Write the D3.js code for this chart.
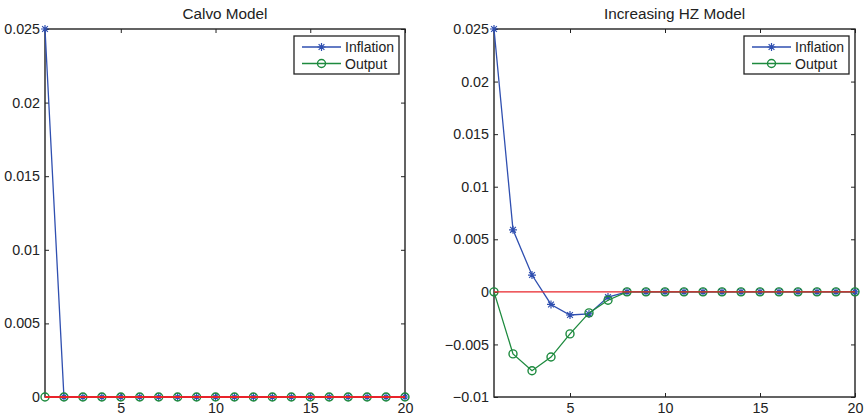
<!DOCTYPE html>
<html>
<head>
<meta charset="utf-8">
<script src="https://cdn.jsdelivr.net/npm/d3@7"></script>
<style>
  body { margin: 0; background: #fff; }
  svg { font-family: "Liberation Sans", Arial, sans-serif; }
</style>
</head>
<body>
<div id="chart"></div>
<script>
const periods = [1, 2, 3, 4, 5, 6, 7, 8, 9, 10, 11, 12, 13, 14, 15, 16, 17, 18, 19, 20];
const calvoInflation = [0.025, 0, 0, 0, 0, 0, 0, 0, 0, 0, 0, 0, 0, 0, 0, 0, 0, 0, 0, 0];
const calvoOutput = [0, 0, 0, 0, 0, 0, 0, 0, 0, 0, 0, 0, 0, 0, 0, 0, 0, 0, 0, 0];
const hzInflation = [0.025, 0.0059, 0.0016, -0.0012, -0.0022, -0.0021, -0.0005, 0, 0, 0, 0, 0, 0, 0, 0, 0, 0, 0, 0, 0];
const hzOutput = [0, -0.0059, -0.0075, -0.0062, -0.0040, -0.0020, -0.0008, 0, 0, 0, 0, 0, 0, 0, 0, 0, 0, 0, 0, 0];
const xTicks = [5, 10, 15, 20];
const calvoYTicks = [0, 0.005, 0.01, 0.015, 0.02, 0.025];
const hzYTicks = [-0.01, -0.005, 0, 0.005, 0.01, 0.015, 0.02, 0.025];
const seriesNames = ['Inflation', 'Output'];

const width = 866;
const height = 419;
const blue = '#2f4fb0';
const green = '#1d8a3e';
const red = '#e8242a';
const ink = '#222';
const tickFont = 14.3;

const fmt = (v) => (v < 0 ? '\u2212' + String(-v) : String(v));

const svg = d3.select('#chart')
  .append('svg')
  .attr('width', width)
  .attr('height', height);

const starPath = (r) => {
  const d = r * 0.72;
  return `M${-r},0L${r},0M0,${-r}L0,${r}M${-d},${-d}L${d},${d}M${-d},${d}L${d},${-d}`;
};

const drawPanel = (cfg) => {
  const { left, right, top, bottom, yDomain, yTicks, title, inflation, output } = cfg;
  const x = d3.scaleLinear().domain([1, 20]).range([left, right]);
  const y = d3.scaleLinear().domain(yDomain).range([bottom, top]);
  const g = svg.append('g');

  // title
  g.append('text')
    .attr('x', (left + right) / 2)
    .attr('y', 19)
    .attr('text-anchor', 'middle')
    .attr('font-size', 15.3)
    .attr('fill', ink)
    .text(title);

  // axes on all four sides, ticks inward
  const bottomAxis = d3.axisBottom(x).tickValues(xTicks).tickSize(-4).tickPadding(6).tickFormat(d3.format('d'));
  const topAxis = d3.axisTop(x).tickValues(xTicks).tickSize(-4).tickFormat('');
  const leftAxis = d3.axisLeft(y).tickValues(yTicks).tickSize(-4).tickPadding(5).tickFormat(fmt);
  const rightAxis = d3.axisRight(y).tickValues(yTicks).tickSize(-4).tickFormat('');

  const styleAxis = (sel) => {
    sel.selectAll('.tick line').attr('stroke', ink).attr('stroke-width', 1);
    sel.selectAll('.tick text').attr('fill', ink).attr('font-size', tickFont)
      .attr('font-family', '"Liberation Sans", Arial, sans-serif');
  };

  g.append('g').attr('transform', `translate(0,${bottom})`).call(bottomAxis).call(styleAxis);
  g.append('g').attr('transform', `translate(0,${top})`).call(topAxis).call(styleAxis);
  g.append('g').attr('transform', `translate(${left},0)`).call(leftAxis).call(styleAxis);
  g.append('g').attr('transform', `translate(${right},0)`).call(rightAxis).call(styleAxis);
  g.selectAll('.domain').remove();
  g.append('rect')
    .attr('x', left).attr('y', top)
    .attr('width', right - left).attr('height', bottom - top)
    .attr('fill', 'none').attr('stroke', ink).attr('stroke-width', 1.4);

  const line = d3.line().x((d, i) => x(periods[i])).y((d) => y(d));

  // inflation
  g.append('path').datum(inflation)
    .attr('d', line).attr('fill', 'none').attr('stroke', blue).attr('stroke-width', 1.3);
  g.selectAll('.star').data(inflation).enter()
    .append('path')
    .attr('class', 'star')
    .attr('transform', (d, i) => `translate(${x(periods[i])},${y(d)})`)
    .attr('d', starPath(4))
    .attr('stroke', blue).attr('stroke-width', 1.2).attr('fill', 'none');

  // output
  g.append('path').datum(output)
    .attr('d', line).attr('fill', 'none').attr('stroke', green).attr('stroke-width', 1.3);
  g.selectAll('.circ').data(output).enter()
    .append('circle')
    .attr('class', 'circ')
    .attr('cx', (d, i) => x(periods[i]))
    .attr('cy', (d) => y(d))
    .attr('r', 4)
    .attr('stroke', green).attr('stroke-width', 1.4).attr('fill', 'none');

  // zero line
  g.append('line')
    .attr('x1', x(1)).attr('x2', x(20))
    .attr('y1', y(0)).attr('y2', y(0))
    .attr('stroke', red).attr('stroke-width', cfg.zeroWidth);

  // legend
  const lx = right - 111;
  const ly = top + 7;
  const lg = g.append('g').attr('transform', `translate(${lx},${ly})`);
  lg.append('rect')
    .attr('width', 105).attr('height', 38)
    .attr('fill', '#fff').attr('stroke', ink).attr('stroke-width', 1.3);
  seriesNames.forEach((name, i) => {
    const cy = 11 + i * 16.5;
    const col = i === 0 ? blue : green;
    lg.append('line').attr('x1', 8).attr('x2', 47).attr('y1', cy).attr('y2', cy)
      .attr('stroke', col).attr('stroke-width', 1.3);
    if (i === 0) {
      lg.append('path').attr('transform', `translate(27.5,${cy})`).attr('d', starPath(4))
        .attr('stroke', col).attr('stroke-width', 1.2).attr('fill', 'none');
    } else {
      lg.append('circle').attr('cx', 27.5).attr('cy', cy).attr('r', 4)
        .attr('stroke', col).attr('stroke-width', 1.4).attr('fill', 'none');
    }
    lg.append('text').attr('x', 51).attr('y', cy + 5)
      .attr('font-size', 14).attr('fill', ink).text(name);
  });
};

drawPanel({
  left: 45, right: 405, top: 29, bottom: 397,
  yDomain: [0, 0.025], yTicks: calvoYTicks,
  title: 'Calvo Model', inflation: calvoInflation, output: calvoOutput,
  zeroWidth: 2.2,
});

drawPanel({
  left: 494, right: 855, top: 29, bottom: 397,
  yDomain: [-0.01, 0.025], yTicks: hzYTicks,
  title: 'Increasing HZ Model', inflation: hzInflation, output: hzOutput,
  zeroWidth: 1.2,
});
</script>
</body>
</html>
